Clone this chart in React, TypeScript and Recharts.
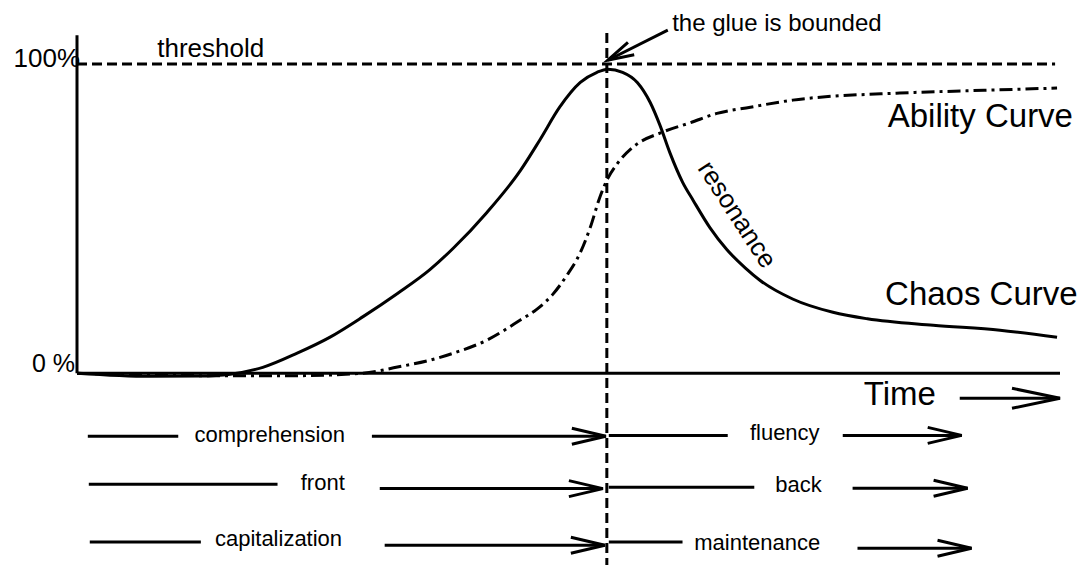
import { LineChart, Line, XAxis, YAxis, ReferenceLine, ReferenceDot } from "recharts";

// time runs 0..100 along the axis, level is in percent
const chaosTime = [0, 7.4, 12.5, 15.6, 18.9, 22.4, 25.7, 29.1, 32.6, 35.9, 38.3, 41.7, 45.1, 47.1, 49.1, 51.2, 52.9, 54.0, 55.5, 57.0, 58.3, 59.3, 60.3, 61.6, 62.7, 64.4, 66.1, 68.0, 69.5, 72.8, 76.9, 80.4, 87.1, 93.9, 99.7];
const chaosLevel = [0, -1.0, -0.9, -0.3, 1.9, 6.5, 11.6, 18.3, 25.8, 33.5, 40.5, 52, 65.5, 75.5, 86, 94, 97.3, 98.3, 97.3, 94, 87.6, 80.2, 71.4, 61.8, 55.8, 47, 40, 34, 30, 24, 19.7, 17.6, 15.5, 13.9, 11.6];

const abilityTime = [0, 7.4, 15, 21.9, 29.1, 32.6, 35.9, 38.3, 41.7, 45.1, 46.7, 48.4, 49.8, 51.2, 52.2, 53.2, 54.0, 54.9, 56.6, 59.6, 62.4, 65.1, 68.5, 72.8, 83.7, 90.5, 99.7];
const abilityLevel = [0, -0.6, -0.8, -0.8, 0, 2, 4.2, 6.5, 10.7, 17.2, 20.5, 25.5, 31.5, 39, 47, 57, 63, 67.5, 73.2, 78, 81, 84, 86, 88.3, 90.6, 91.3, 92.2];

const levelTicks = [0, 100];
const tickLabels = ["0 %", "100%"];

const peakTime = 53.9;

// phase rows under the time axis
const phaseLabels = ["comprehension", "front", "capitalization", "fluency", "back", "maintenance"];
const phaseRows = [
  { lineFrom: 1.1, lineTo: 10.3, lineV: -20.4, textT: 19.6, textV: -22.3, arrowFrom: 30, arrowTo: 53.8, arrowV: -20.4 },
  { lineFrom: 1.2, lineTo: 20.4, lineV: -35.9, textT: 25, textV: -37.8, arrowFrom: 30.8, arrowTo: 53.5, arrowV: -37.3 },
  { lineFrom: 1.3, lineTo: 12.6, lineV: -54.6, textT: 20.5, textV: -55.9, arrowFrom: 31.3, arrowTo: 53.7, arrowV: -55.6 },
  { lineFrom: 54.1, lineTo: 66.2, lineV: -20.1, textT: 72, textV: -21.7, arrowFrom: 77.9, arrowTo: 90, arrowV: -20.1 },
  { lineFrom: 54.1, lineTo: 68.9, lineV: -36.9, textT: 73.4, textV: -38.5, arrowFrom: 78.9, arrowTo: 90.6, arrowV: -37.2 },
  { lineFrom: 54.1, lineTo: 61.6, lineV: -54.6, textT: 69.2, textV: -57.2, arrowFrom: 79.4, arrowTo: 91, arrowV: -56.6 },
];

const chaosData = chaosTime.map((t, i) => ({ t, level: chaosLevel[i] }));
const abilityData = abilityTime.map((t, i) => ({ t, level: abilityLevel[i] }));

const FONT = "'Liberation Sans', Arial, sans-serif";
const INK = "#000";

const arrowShape = (len: number, half: number) => (p: any) => {
  const { x1, y1, x2, y2 } = p;
  const a = Math.atan2(y2 - y1, x2 - x1);
  const bx = x2 - len * Math.cos(a);
  const by = y2 - len * Math.sin(a);
  const nx = -Math.sin(a) * half;
  const ny = Math.cos(a) * half;
  return (
    <g>
      <line x1={x1} y1={y1} x2={x2} y2={y2} stroke={INK} strokeWidth={3} />
      <polyline
        points={`${bx + nx},${by + ny} ${x2},${y2} ${bx - nx},${by - ny}`}
        fill="none"
        stroke={INK}
        strokeWidth={3}
      />
    </g>
  );
};

const textShape = (text: string, size: number, rotate = 0) => (p: any) => (
  <text
    x={p.cx}
    y={p.cy}
    textAnchor="middle"
    dominantBaseline={rotate ? "central" : "alphabetic"}
    transform={rotate ? `rotate(${rotate}, ${p.cx}, ${p.cy})` : undefined}
    fontSize={size}
    fontFamily={FONT}
    fill={INK}
  >
    {text}
  </text>
);

const LevelTick = (props: any) => {
  const { x, y, payload } = props;
  const top = payload.value === 100;
  return (
    <text
      x={top ? x + 3 : x - 2}
      y={top ? y + 3 : y - 1}
      textAnchor="end"
      fontSize={top ? 26 : 25}
      fontFamily={FONT}
      fill={INK}
    >
      {tickLabels[levelTicks.indexOf(payload.value)]}
    </text>
  );
};

export default function App() {
  return (
    <div style={{ position: "absolute", left: 0, top: 0, background: "#fff" }}>
      <LineChart width={1086} height={565} margin={{ top: 33, right: 26, bottom: 0, left: 0 }}>
        <XAxis dataKey="t" type="number" domain={[0, 100]} hide allowDataOverflow />
        <YAxis
          type="number"
          domain={[-62, 110]}
          ticks={levelTicks}
          width={77}
          axisLine={false}
          tickLine={false}
          tickSize={0}
          tickMargin={0}
          tick={<LevelTick />}
          allowDataOverflow
        />

        {/* axes */}
        <ReferenceLine segment={[{ x: 0, y: 0 }, { x: 0, y: 109.3 }]} stroke={INK} strokeWidth={3} ifOverflow="visible" />
        <ReferenceLine segment={[{ x: 0, y: 0 }, { x: 100, y: 0 }]} stroke={INK} strokeWidth={3} ifOverflow="visible" />

        {/* threshold and peak marker */}
        <ReferenceLine segment={[{ x: 0, y: 100 }, { x: 99.5, y: 100 }]} stroke={INK} strokeWidth={3} strokeDasharray="10 5" ifOverflow="visible" />
        <ReferenceLine segment={[{ x: peakTime, y: 110 }, { x: peakTime, y: -62 }]} stroke={INK} strokeWidth={3} strokeDasharray="10 5" ifOverflow="visible" />

        <ReferenceLine segment={[{ x: 60.1, y: 110.9 }, { x: 54.0, y: 101.2 }]} ifOverflow="visible" shape={arrowShape(26, 7)} />
        <ReferenceDot x={71.2} y={110.6} ifOverflow="visible" shape={textShape("the glue is bounded", 24)} />
        <ReferenceDot x={13.6} y={102.2} ifOverflow="visible" shape={textShape("threshold", 26)} />

        {/* time arrow */}
        <ReferenceLine segment={[{ x: 89.8, y: -8.1 }, { x: 100, y: -8.1 }]} ifOverflow="visible" shape={arrowShape(48, 10)} />
        <ReferenceDot x={83.7} y={-10.3} ifOverflow="visible" shape={textShape("Time", 33)} />

        <ReferenceDot x={91.9} y={79.5} ifOverflow="visible" shape={textShape("Ability Curve", 33)} />
        <ReferenceDot x={92} y={22} ifOverflow="visible" shape={textShape("Chaos Curve", 33)} />
        <ReferenceDot x={67.2} y={51.4} ifOverflow="visible" shape={textShape("resonance", 26, 57)} />

        {phaseRows.map((r, i) => [
          <ReferenceLine key={`l${i}`} segment={[{ x: r.lineFrom, y: r.lineV }, { x: r.lineTo, y: r.lineV }]} stroke={INK} strokeWidth={3} ifOverflow="visible" />,
          <ReferenceDot key={`t${i}`} x={r.textT} y={r.textV} ifOverflow="visible" shape={textShape(phaseLabels[i], 22)} />,
          <ReferenceLine key={`a${i}`} segment={[{ x: r.arrowFrom, y: r.arrowV }, { x: r.arrowTo, y: r.arrowV }]} ifOverflow="visible" shape={arrowShape(34, 8)} />,
        ])}

        <Line
          data={abilityData}
          dataKey="level"
          type="monotone"
          stroke={INK}
          strokeWidth={3}
          strokeDasharray="13 5 3 5"
          dot={false}
          isAnimationActive={false}
        />
        <Line
          data={chaosData}
          dataKey="level"
          type="monotone"
          stroke={INK}
          strokeWidth={3}
          dot={false}
          isAnimationActive={false}
        />
      </LineChart>
    </div>
  );
}
